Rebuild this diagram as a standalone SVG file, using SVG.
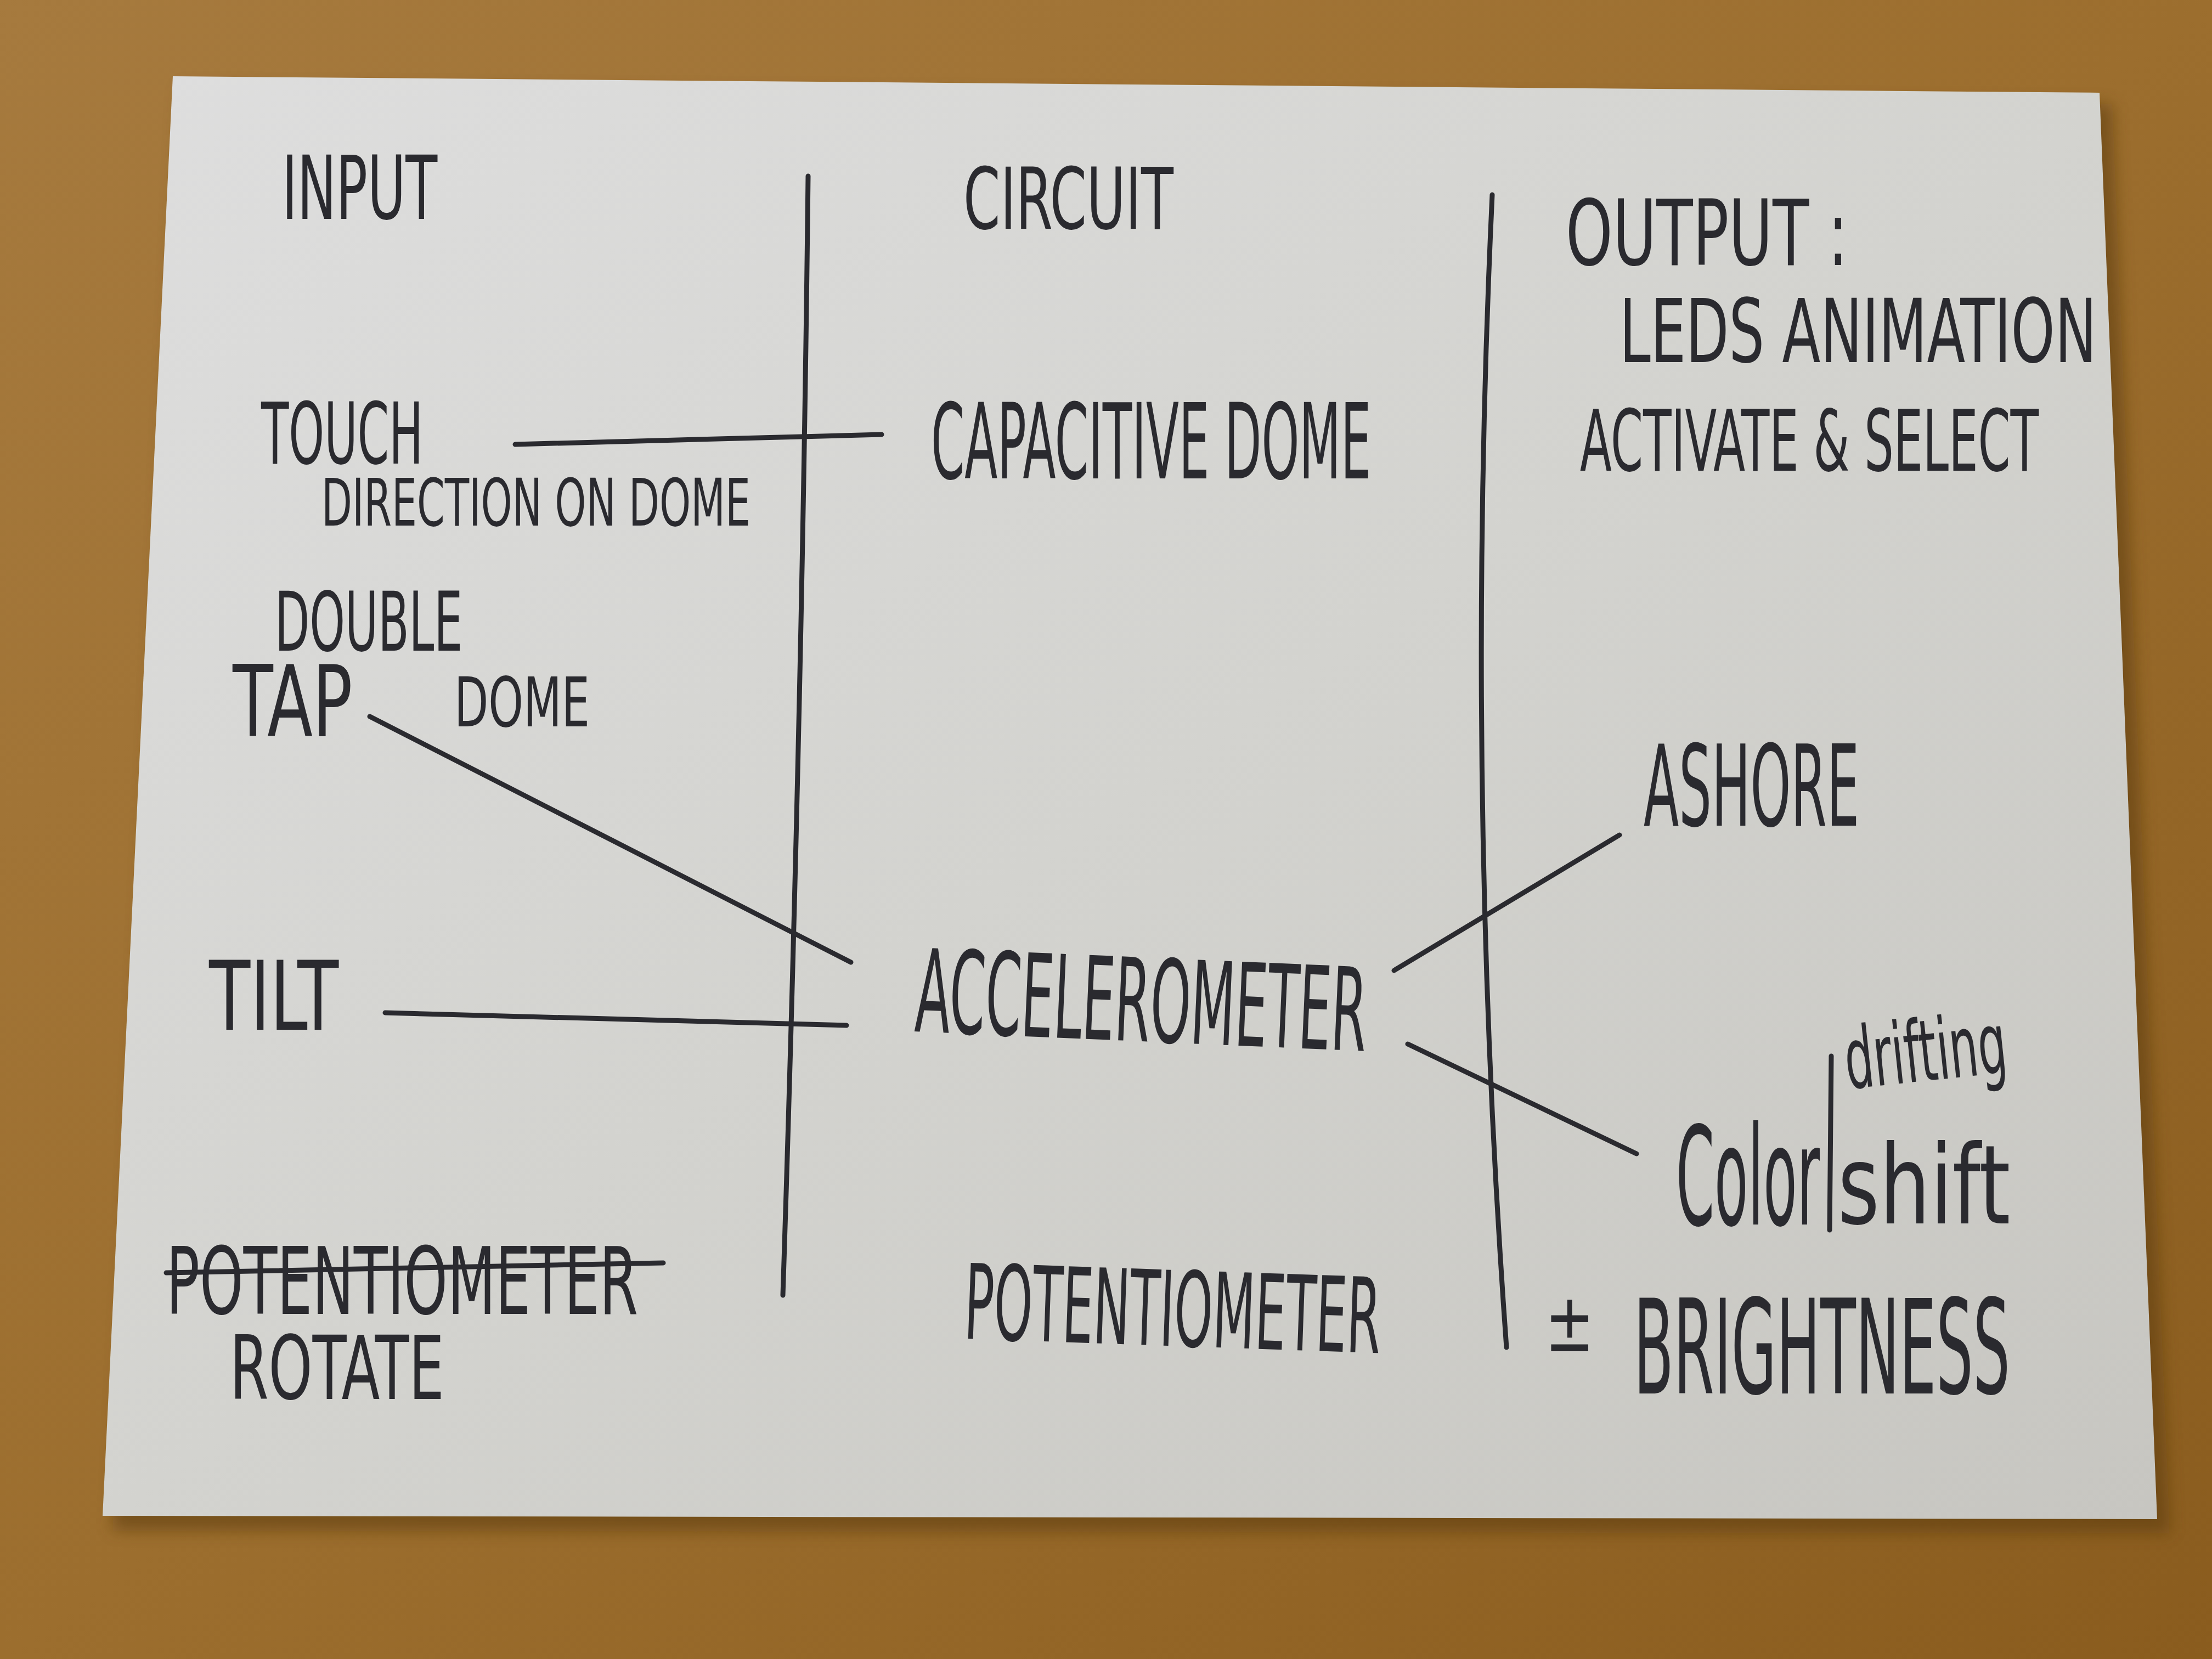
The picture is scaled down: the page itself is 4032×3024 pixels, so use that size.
<svg xmlns="http://www.w3.org/2000/svg" width="4032" height="3024" viewBox="0 0 4032 3024">
  <defs>
    <linearGradient id="wood" x1="0" y1="0" x2="1" y2="1">
      <stop offset="0" stop-color="#a67a3e"/>
      <stop offset="0.5" stop-color="#9c6e2e"/>
      <stop offset="1" stop-color="#8a5c1e"/>
    </linearGradient>
    <linearGradient id="card" x1="0" y1="0" x2="1" y2="1">
      <stop offset="0" stop-color="#dedede"/>
      <stop offset="0.5" stop-color="#d3d3cf"/>
      <stop offset="1" stop-color="#c7c6c1"/>
    </linearGradient>
    <filter id="blur" x="-5%" y="-5%" width="110%" height="110%">
      <feGaussianBlur stdDeviation="14"/>
    </filter>
    <style>
      .t { font-family: "DejaVu Sans Condensed", "Liberation Sans Narrow", "Liberation Sans", sans-serif; fill: #2a2a2f; }
      .ln { stroke: #2a2a2f; stroke-width: 9; stroke-linecap: round; fill: none; }
    </style>
  </defs>

  <rect x="0" y="0" width="4032" height="3024" fill="url(#wood)"/>
  <polygon points="330,160 3850,190 3955,2795 205,2790" fill="#5a3a10" opacity="0.55" filter="url(#blur)"/>
  <polygon points="315,139 3827,169 3932,2769 187,2763" fill="url(#card)"/>

  <g id="connectors">
    <path class="ln" d="M1473,321 Q1462,1300 1427,2361"/>
    <path class="ln" d="M2720,355 Q2670,1414 2746,2456"/>
    <path class="ln" d="M939,810 L1607,792"/>
    <path class="ln" d="M674,1306 L1551,1754"/>
    <path class="ln" d="M702,1846 L1543,1869"/>
    <path class="ln" d="M2541,1769 L2952,1522"/>
    <path class="ln" d="M2566,1903 L2983,2103"/>
  </g>

  <g id="input-header"><text class="t" transform="translate(514 399) scale(0.66 1)" font-size="160" textLength="429" lengthAdjust="spacingAndGlyphs">INPUT</text></g>
  <g id="circuit-header"><text class="t" transform="translate(1756 417) scale(0.68 1)" font-size="155" textLength="563" lengthAdjust="spacingAndGlyphs">CIRCUIT</text></g>
  <g id="output-header">
    <text class="t" transform="translate(2854 483) scale(0.73 1)" font-size="165" textLength="705" lengthAdjust="spacingAndGlyphs">OUTPUT :</text>
    <text class="t" transform="translate(2952 660) scale(0.66 1)" font-size="160" textLength="1318" lengthAdjust="spacingAndGlyphs">LEDS ANIMATION</text>
  </g>
  <g id="activate-select"><text class="t" transform="translate(2880 858) scale(0.575 1)" font-size="155" textLength="1454" lengthAdjust="spacingAndGlyphs">ACTIVATE &amp; SELECT</text></g>
  <g id="touch">
    <text class="t" transform="translate(476 845) scale(0.58 1)" font-size="155" textLength="509" lengthAdjust="spacingAndGlyphs">TOUCH</text>
    <text class="t" transform="translate(586 958) scale(0.63 1)" font-size="120" textLength="1241" lengthAdjust="spacingAndGlyphs">DIRECTION ON DOME</text>
  </g>
  <g id="capacitive-dome"><text class="t" transform="translate(1697 872) scale(0.51 1)" font-size="190" textLength="1573" lengthAdjust="spacingAndGlyphs">CAPACITIVE DOME</text></g>
  <g id="double-tap">
    <text class="t" transform="translate(501 1186) scale(0.59 1)" font-size="150" textLength="580" lengthAdjust="spacingAndGlyphs">DOUBLE</text>
    <text class="t" transform="translate(424 1342) scale(0.71 1)" font-size="180" textLength="308" lengthAdjust="spacingAndGlyphs">TAP</text>
    <text class="t" transform="translate(828 1324) scale(0.72 1)" font-size="125" textLength="343" lengthAdjust="spacingAndGlyphs">DOME</text>
  </g>
  <g id="ashore"><text class="t" transform="translate(2996 1505) scale(0.51 1)" font-size="205" textLength="771" lengthAdjust="spacingAndGlyphs">ASHORE</text></g>
  <g id="tilt"><text class="t" transform="translate(381 1877) scale(0.72 1)" font-size="175" textLength="328" lengthAdjust="spacingAndGlyphs">TILT</text></g>
  <g id="accelerometer"><text class="t" transform="translate(1666 1880) rotate(2.5) scale(0.49 1)" font-size="210" textLength="1680" lengthAdjust="spacingAndGlyphs">ACCELEROMETER</text></g>
  <g id="color-shift">
    <text class="t" transform="translate(3055 2232) scale(0.45 1)" font-size="250" textLength="582" lengthAdjust="spacingAndGlyphs">Color</text>
    <path class="ln" d="M3338,1925 L3335,2242"/>
    <text class="t" transform="translate(3368 1985) rotate(-6) scale(0.57 1)" font-size="155" textLength="519" lengthAdjust="spacingAndGlyphs">drifting</text>
    <text class="t" transform="translate(3350 2230) scale(0.78 1)" font-size="200" textLength="403" lengthAdjust="spacingAndGlyphs">shift</text>
  </g>
  <g id="potentiometer-input">
    <text class="t" transform="translate(303 2395) scale(0.65 1)" font-size="170" textLength="1323" lengthAdjust="spacingAndGlyphs">POTENTIOMETER</text>
    <path class="ln" d="M303,2320 L1209,2302"/>
    <text class="t" transform="translate(419 2550) scale(0.66 1)" font-size="160" textLength="592" lengthAdjust="spacingAndGlyphs">ROTATE</text>
  </g>
  <g id="potentiometer-circuit"><text class="t" transform="translate(1756 2440) rotate(2) scale(0.52 1)" font-size="190" textLength="1460" lengthAdjust="spacingAndGlyphs">POTENTIOMETER</text></g>
  <g id="brightness">
    <text class="t" transform="translate(2816 2463) scale(0.8 1)" font-size="150" textLength="113" lengthAdjust="spacingAndGlyphs">±</text>
    <text class="t" transform="translate(2978 2540) scale(0.49 1)" font-size="240" textLength="1400" lengthAdjust="spacingAndGlyphs">BRIGHTNESS</text>
  </g>
</svg>
